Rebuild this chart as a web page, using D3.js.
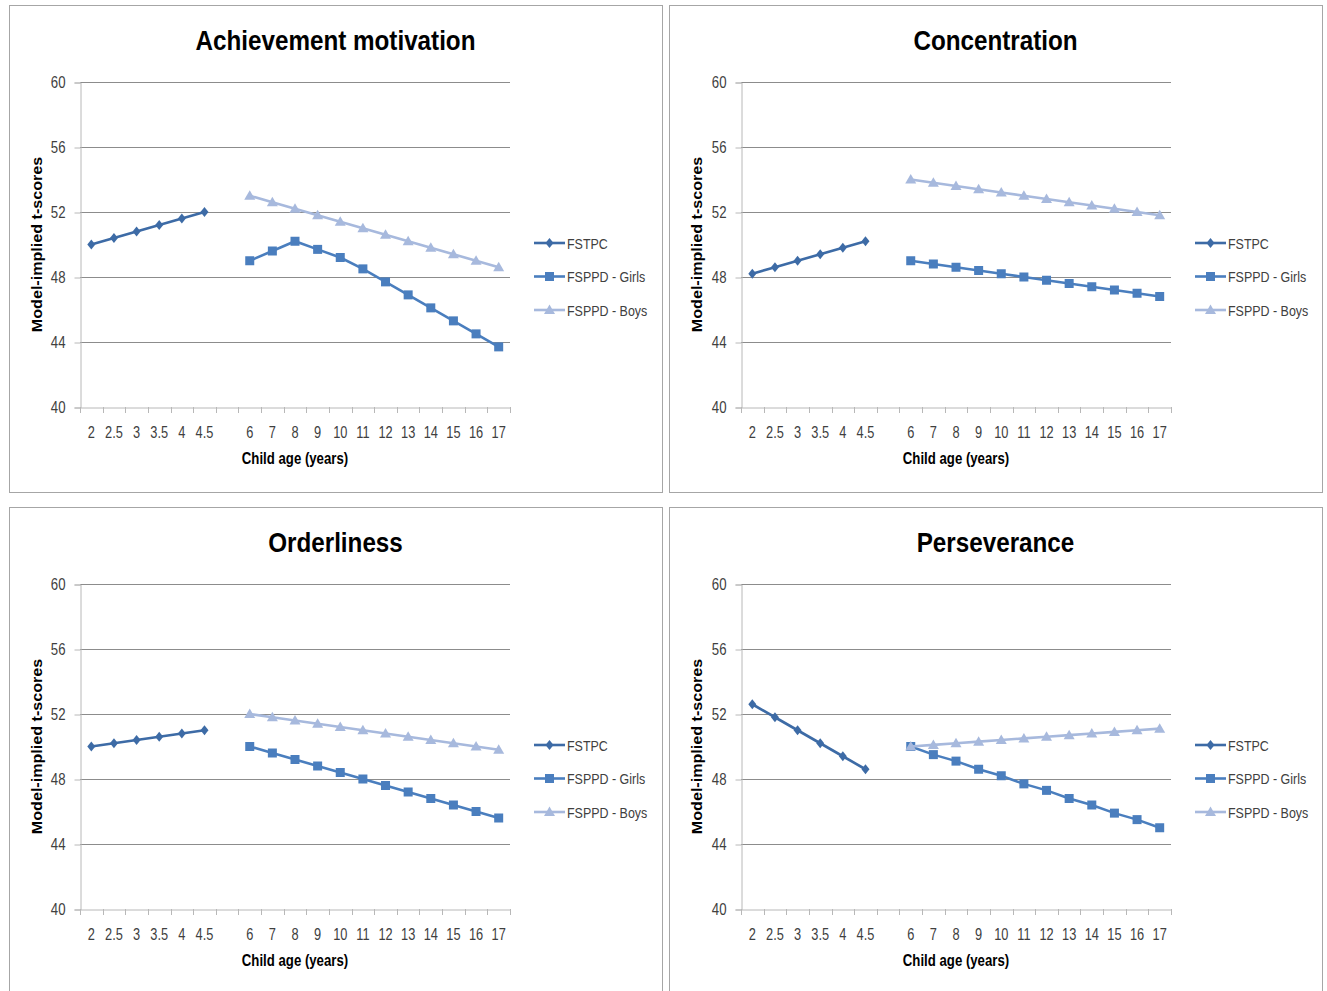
<!DOCTYPE html>
<html><head><meta charset="utf-8">
<script src="https://cdn.jsdelivr.net/npm/d3@7/dist/d3.min.js"></script>
<style>
body{margin:0;background:#fff;}
text{font-family:"Liberation Sans",Arial,sans-serif;}
</style></head>
<body><svg id="chart" width="1327" height="991"></svg>
<script>
const categories = ["2","2.5","3","3.5","4","4.5"," ","6","7","8","9","10","11","12","13","14","15","16","17"];
const earlyAges = ["2","2.5","3","3.5","4","4.5"];
const lateAges = ["6","7","8","9","10","11","12","13","14","15","16","17"];
const yTicks = [40,44,48,52,56,60];
const seriesNames = ["FSTPC","FSPPD - Girls","FSPPD - Boys"];
const panelTitles = ["Achievement motivation","Concentration","Orderliness","Perseverance"];

const achFSTPC = [50.0,50.4,50.8,51.2,51.6,52.0];
const achGirls = [49.0,49.6,50.2,49.7,49.2,48.5,47.7,46.9,46.1,45.3,44.5,43.7];
const achBoys  = [53.0,52.6,52.2,51.8,51.4,51.0,50.6,50.2,49.8,49.4,49.0,48.6];

const conFSTPC = [48.2,48.6,49.0,49.4,49.8,50.2];
const conGirls = [49.0,48.8,48.6,48.4,48.2,48.0,47.8,47.6,47.4,47.2,47.0,46.8];
const conBoys  = [54.0,53.8,53.6,53.4,53.2,53.0,52.8,52.6,52.4,52.2,52.0,51.8];

const ordFSTPC = [50.0,50.2,50.4,50.6,50.8,51.0];
const ordGirls = [50.0,49.6,49.2,48.8,48.4,48.0,47.6,47.2,46.8,46.4,46.0,45.6];
const ordBoys  = [52.0,51.8,51.6,51.4,51.2,51.0,50.8,50.6,50.4,50.2,50.0,49.8];

const perFSTPC = [52.6,51.8,51.0,50.2,49.4,48.6];
const perGirls = [50.0,49.5,49.1,48.6,48.2,47.7,47.3,46.8,46.4,45.9,45.5,45.0];
const perBoys  = [50.0,50.1,50.2,50.3,50.4,50.5,50.6,50.7,50.8,50.9,51.0,51.1];

const panelData = [
  [achFSTPC, achGirls, achBoys],
  [conFSTPC, conGirls, conBoys],
  [ordFSTPC, ordGirls, ordBoys],
  [perFSTPC, perGirls, perBoys]
];

const colors = ["#3D6BA6","#4A7EBE","#A7B9DD"];
const panelPos = [[9,5],[669,5],[9,507],[669,507]];
const PW = 653, PH = 487;
const plotL = 71, plotR = 501, plotT = 77, plotB = 402;
const FONT = "'Liberation Sans',Arial,sans-serif";

const svg = d3.select("#chart");

function condense(sel, f){
  sel.each(function(){
    const w = this.getComputedTextLength();
    d3.select(this).attr("textLength", w*f).attr("lengthAdjust","spacingAndGlyphs");
  });
}

function marker(sel, type, color){
  if(type===0){
    sel.append("path").attr("d","M0,-5L4,0L0,5L-4,0Z").attr("fill",color);
  } else if(type===1){
    sel.append("rect").attr("x",-4.5).attr("y",-4.5).attr("width",9).attr("height",9).attr("fill",color);
  } else {
    sel.append("path").attr("d","M0,-5.5L5.5,4L-5.5,4Z").attr("fill",color);
  }
}

panelTitles.forEach((title, pi) => {
  const [px, py] = panelPos[pi];
  const g = svg.append("g").attr("transform",`translate(${px},${py})`);
  g.append("rect").attr("x",0.5).attr("y",0.5).attr("width",PW).attr("height",PH)
    .attr("fill","#fff").attr("stroke","#a6a6a6").attr("stroke-width",1);

  const off = pi%2 ? 1 : 0;
  const x = d3.scaleBand().domain(categories).range([plotL + off, plotR + off]);
  const y = d3.scaleLinear().domain([40,60]).range([plotB,plotT]);

  // gridlines
  g.append("g").selectAll("line").data(yTicks.filter(t=>t>40)).join("line")
    .attr("x1",x.range()[0]).attr("x2",x.range()[1])
    .attr("y1",d=>Math.round(y(d))+0.5).attr("y2",d=>Math.round(y(d))+0.5)
    .attr("stroke","#8c8c8c").attr("stroke-width",1);

  // y axis
  const yAxis = d3.axisLeft(y).tickValues(yTicks).tickSize(6).tickPadding(9).tickFormat(d3.format("d"));
  const ya = g.append("g").attr("transform",`translate(${x.range()[0]+0.5},0.5)`).call(yAxis);
  ya.select(".domain").attr("stroke","#b8b8b8");
  ya.selectAll(".tick line").attr("stroke","#b8b8b8");
  ya.selectAll("text").attr("font-size",16.5).attr("fill","#404040").attr("font-family",FONT)
    .call(condense, 0.8);

  // x axis
  const xa = g.append("g").attr("transform",`translate(0,${Math.round(plotB)+0.5})`)
    .call(d3.axisBottom(x).tickSize(0).tickPadding(19));
  xa.select(".domain").attr("stroke","#b8b8b8");
  xa.selectAll("text").attr("font-size",16).attr("fill","#404040").attr("font-family",FONT)
    .call(condense, 0.8);
  const bounds = categories.map(c=>x(c)).concat([x.range()[1]]);
  g.append("g").selectAll("line").data(bounds).join("line")
    .attr("x1",d=>Math.round(d)+0.5).attr("x2",d=>Math.round(d)+0.5)
    .attr("y1",plotB).attr("y2",plotB+6).attr("stroke","#b8b8b8");

  // titles
  g.append("text").attr("x",PW/2).attr("y",45).attr("text-anchor","middle")
    .attr("font-size",28).attr("font-weight","bold").attr("fill","#000").text(title)
    .call(condense, 0.865);
  g.append("text").attr("transform",`translate(33,${(plotT+plotB)/2}) rotate(-90)`)
    .attr("text-anchor","middle").attr("font-size",14).attr("font-weight","bold")
    .attr("fill","#000").text("Model-implied t-scores").call(condense, 1.15);
  g.append("text").attr("x",(x.range()[0]+x.range()[1])/2).attr("y",459)
    .attr("text-anchor","middle").attr("font-size",16.5).attr("font-weight","bold")
    .attr("fill","#000").text("Child age (years)").call(condense, 0.8);

  // series
  const cx = c => x(c) + x.bandwidth()/2;
  panelData[pi].forEach((vals, si) => {
    const ages = si===0 ? earlyAges : lateAges;
    const pts = ages.map((a,i)=>({a, v: vals[i]}));
    const line = d3.line().x(d=>cx(d.a)).y(d=>y(d.v));
    g.append("path").datum(pts).attr("d",line).attr("fill","none")
      .attr("stroke",colors[si]).attr("stroke-width",2.6);
    pts.forEach(p => {
      const m = g.append("g").attr("transform",`translate(${cx(p.a)},${y(p.v)})`);
      marker(m, si, colors[si]);
    });
  });

  // legend
  const lx = plotR + 24 + off;
  seriesNames.forEach((n, si) => {
    const ly = 238 + si*33.5;
    g.append("line").attr("x1",lx).attr("x2",lx+31).attr("y1",ly).attr("y2",ly)
      .attr("stroke",colors[si]).attr("stroke-width",2.6);
    const m = g.append("g").attr("transform",`translate(${lx+15.5},${ly})`);
    marker(m, si, colors[si]);
    g.append("text").attr("x",lx+33).attr("y",ly+5.5).attr("font-size",15)
      .attr("fill","#404040").text(n).call(condense, 0.83);
  });
});
</script></body></html>
